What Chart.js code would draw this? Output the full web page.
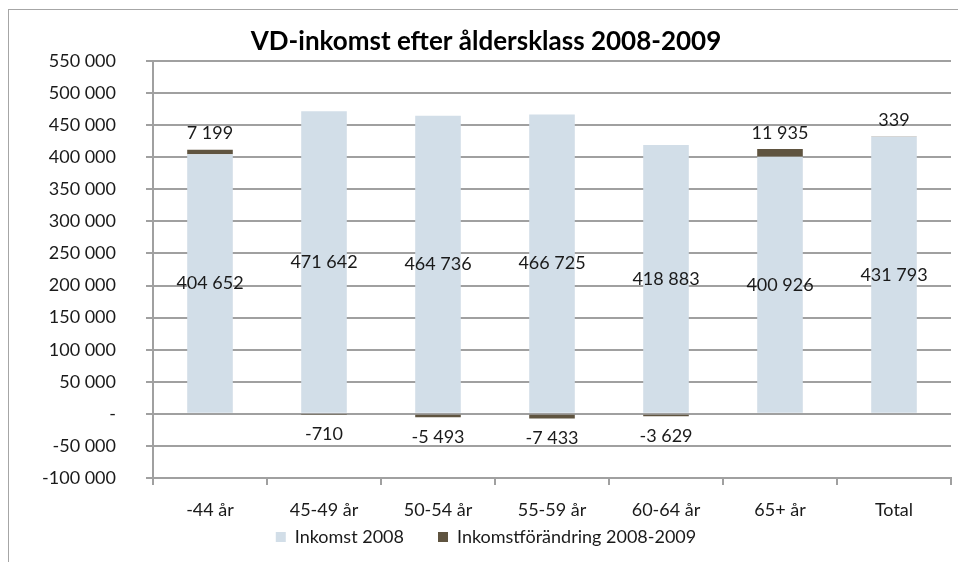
<!DOCTYPE html>
<html lang="sv">
<head>
<meta charset="utf-8">
<title>VD-inkomst efter åldersklass 2008-2009</title>
<script src="https://cdn.jsdelivr.net/npm/chart.js@4.4.1/dist/chart.umd.min.js"></script>
<style>
  html, body { margin: 0; padding: 0; background: #fff; }
  #wrap { position: relative; width: 958px; height: 562px; overflow: hidden; }
  #frame { position: absolute; left: 8px; top: 9px; width: 1000px; height: 1000px;
           border-left: 1px solid #a6a6a6; border-top: 1px solid #a6a6a6; }
  canvas { position: absolute; left: 0; top: 0; }
</style>
</head>
<body>
<div id="wrap">
  <div id="frame"></div>
  <canvas id="vdChart" width="958" height="562"></canvas>
</div>
<script>
// Åldersklasser och värden (kr)
const categories = ['-44 år', '45-49 år', '50-54 år', '55-59 år', '60-64 år', '65+ år', 'Total'];
const inkomst2008 = [404652, 471642, 464736, 466725, 418883, 400926, 431793];
const forandring = [7199, -710, -5493, -7433, -3629, 11935, 339];
const seriesNames = ['Inkomst 2008', 'Inkomstförändring 2008-2009'];

const textColor = '#1a1a1a';
const gridColor = '#a0a0a0';
const fontFamily = 'Lato, "Open Sans", sans-serif';

// 404652 -> "404 652", 0 -> "-"
function fmt(v) {
  if (v === 0) return '-';
  const s = Math.abs(v).toString().replace(/\B(?=(\d{3})+(?!\d))/g, ' ');
  return (v < 0 ? '-' : '') + s;
}

// etiketter på staplarna
const valueLabels = {
  id: 'valueLabels',
  afterDatasetsDraw(chart) {
    const ctx = chart.ctx;
    ctx.save();
    ctx.font = '18px ' + fontFamily;
    ctx.fillStyle = textColor;
    ctx.textAlign = 'center';
    ctx.textBaseline = 'middle';
    chart.data.datasets.forEach((ds, i) => {
      chart.getDatasetMeta(i).data.forEach((bar, j) => {
        const v = ds.data[j];
        let y;
        if (i === 0) y = (bar.y + bar.base) / 2;
        else y = v >= 0 ? bar.y - 16 : bar.y + 20;
        ctx.fillText(fmt(v), bar.x, y);
      });
    });
    ctx.restore();
  }
};

// flytta upp förklaringen närmare axeln
const legendShift = {
  id: 'legendShift',
  afterLayout(chart) {
    chart.legend.top -= 29;
    chart.legend.bottom -= 29;
  }
};

const ctx = document.getElementById('vdChart').getContext('2d');

new Chart(ctx, {
  type: 'bar',
  data: {
    labels: categories,
    datasets: [{
      label: seriesNames[0],
      data: inkomst2008,
      backgroundColor: '#d2dee8',
      barPercentage: 0.4,
      categoryPercentage: 1
    }, {
      label: seriesNames[1],
      data: forandring,
      backgroundColor: '#5f5440',
      barPercentage: 0.4,
      categoryPercentage: 1
    }]
  },
  options: {
    responsive: false,
    animation: false,
    layout: { padding: { left: 21, right: 7, top: 0, bottom: -23 } },
    plugins: {
      title: {
        display: true,
        text: 'VD-inkomst efter åldersklass 2008-2009',
        color: '#000',
        font: { family: fontFamily, size: 26, weight: 'bold' },
        padding: { top: 26.4, bottom: 3.4 }
      },
      legend: {
        position: 'bottom',
        labels: {
          boxWidth: 10,
          boxHeight: 10,
          padding: 34,
          color: textColor,
          font: { family: fontFamily, size: 18 }
        }
      },
      tooltip: { enabled: false }
    },
    scales: {
      x: {
        stacked: true,
        afterFit(scale) { scale.height = 45; },
        grid: { drawOnChartArea: false, drawTicks: true, tickLength: 7, color: gridColor, lineWidth: 2 },
        border: { color: gridColor, width: 2 },
        ticks: { color: textColor, padding: 14, maxRotation: 0, font: { family: fontFamily, size: 18 } }
      },
      y: {
        stacked: true,
        min: -100000,
        max: 550000,
        afterFit(scale) { scale.width = 132; },
        grid: { color: gridColor, lineWidth: 2, tickLength: 7 },
        border: { color: gridColor, width: 2 },
        ticks: {
          stepSize: 50000,
          padding: 30,
          color: textColor,
          font: { family: fontFamily, size: 18 },
          callback: v => fmt(v)
        }
      }
    }
  },
  plugins: [valueLabels, legendShift]
});
</script>
</body>
</html>
